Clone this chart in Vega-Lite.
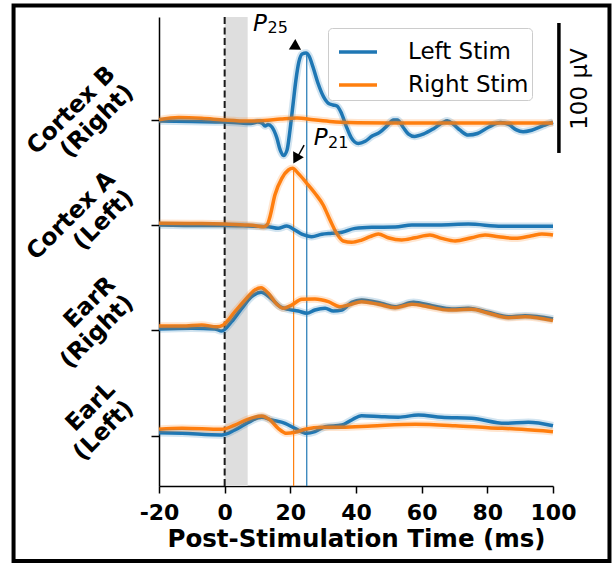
{
  "$schema": "https://vega.github.io/schema/vega-lite/v6.json",
  "width": 394,
  "height": 469,
  "autosize": {"type": "none"},
  "padding": {"left": 159, "top": 17, "right": 63, "bottom": 77},
  "background": "white",
  "config": {
    "view": {"stroke": null},
    "font": "DejaVu Sans",
    "axis": {"domainColor": "black", "domainWidth": 1.5, "tickColor": "black", "tickWidth": 1.5, "labelColor": "black", "titleColor": "black", "grid": false}
  },
  "datasets": {
    "traces": [
      {"ch":"B","stim":"Left Stim","t":-20,"v":242.1},{"ch":"B","stim":"Left Stim","t":-10,"v":241.7},{"ch":"B","stim":"Left Stim","t":0,"v":241.3},{"ch":"B","stim":"Left Stim","t":5,"v":240.5},{"ch":"B","stim":"Left Stim","t":8,"v":240.2},{"ch":"B","stim":"Left Stim","t":10,"v":241.3},{"ch":"B","stim":"Left Stim","t":11.4,"v":240.5},{"ch":"B","stim":"Left Stim","t":12.3,"v":238.2},{"ch":"B","stim":"Left Stim","t":13.2,"v":239.4},{"ch":"B","stim":"Left Stim","t":14.4,"v":237.5},{"ch":"B","stim":"Left Stim","t":15.9,"v":229.0},{"ch":"B","stim":"Left Stim","t":16.9,"v":219.8},{"ch":"B","stim":"Left Stim","t":17.9,"v":215.5},{"ch":"B","stim":"Left Stim","t":19.0,"v":219.8},{"ch":"B","stim":"Left Stim","t":19.9,"v":235.2},{"ch":"B","stim":"Left Stim","t":20.8,"v":254.4},{"ch":"B","stim":"Left Stim","t":21.7,"v":273.6},{"ch":"B","stim":"Left Stim","t":22.6,"v":287.5},{"ch":"B","stim":"Left Stim","t":23.6,"v":293.6},{"ch":"B","stim":"Left Stim","t":24.8,"v":294.4},{"ch":"B","stim":"Left Stim","t":25.7,"v":292.1},{"ch":"B","stim":"Left Stim","t":26.9,"v":283.6},{"ch":"B","stim":"Left Stim","t":28.4,"v":271.3},{"ch":"B","stim":"Left Stim","t":30.0,"v":261.3},{"ch":"B","stim":"Left Stim","t":31.5,"v":255.9},{"ch":"B","stim":"Left Stim","t":33.0,"v":254.4},{"ch":"B","stim":"Left Stim","t":34.2,"v":253.6},{"ch":"B","stim":"Left Stim","t":35.4,"v":249.0},{"ch":"B","stim":"Left Stim","t":37.0,"v":238.2},{"ch":"B","stim":"Left Stim","t":38.5,"v":229.5},{"ch":"B","stim":"Left Stim","t":40.7,"v":224.8},{"ch":"B","stim":"Left Stim","t":42.8,"v":226.5},{"ch":"B","stim":"Left Stim","t":44.9,"v":230.5},{"ch":"B","stim":"Left Stim","t":47.3,"v":233.5},{"ch":"B","stim":"Left Stim","t":49.5,"v":238.5},{"ch":"B","stim":"Left Stim","t":51.4,"v":242.8},{"ch":"B","stim":"Left Stim","t":52.6,"v":242.8},{"ch":"B","stim":"Left Stim","t":54.3,"v":237.5},{"ch":"B","stim":"Left Stim","t":56.0,"v":232.0},{"ch":"B","stim":"Left Stim","t":57.8,"v":230.2},{"ch":"B","stim":"Left Stim","t":60.5,"v":232.0},{"ch":"B","stim":"Left Stim","t":63.5,"v":236.0},{"ch":"B","stim":"Left Stim","t":66.5,"v":241.0},{"ch":"B","stim":"Left Stim","t":67.8,"v":242.2},{"ch":"B","stim":"Left Stim","t":69.5,"v":240.0},{"ch":"B","stim":"Left Stim","t":71.7,"v":235.0},{"ch":"B","stim":"Left Stim","t":74.2,"v":231.3},{"ch":"B","stim":"Left Stim","t":77.0,"v":232.5},{"ch":"B","stim":"Left Stim","t":80.5,"v":237.5},{"ch":"B","stim":"Left Stim","t":84.0,"v":240.9},{"ch":"B","stim":"Left Stim","t":86.5,"v":239.5},{"ch":"B","stim":"Left Stim","t":88.7,"v":235.5},{"ch":"B","stim":"Left Stim","t":90.9,"v":233.8},{"ch":"B","stim":"Left Stim","t":93.5,"v":235.0},{"ch":"B","stim":"Left Stim","t":97.0,"v":238.5},{"ch":"B","stim":"Left Stim","t":100,"v":241.3},
      {"ch":"B","stim":"Right Stim","t":-20,"v":243.0},{"ch":"B","stim":"Right Stim","t":-14,"v":244.8},{"ch":"B","stim":"Right Stim","t":-7,"v":244.2},{"ch":"B","stim":"Right Stim","t":0,"v":242.8},{"ch":"B","stim":"Right Stim","t":7,"v":242.0},{"ch":"B","stim":"Right Stim","t":12,"v":242.5},{"ch":"B","stim":"Right Stim","t":17,"v":243.6},{"ch":"B","stim":"Right Stim","t":22,"v":244.4},{"ch":"B","stim":"Right Stim","t":27,"v":243.0},{"ch":"B","stim":"Right Stim","t":32,"v":241.8},{"ch":"B","stim":"Right Stim","t":38,"v":240.9},{"ch":"B","stim":"Right Stim","t":50,"v":240.6},{"ch":"B","stim":"Right Stim","t":70,"v":240.5},{"ch":"B","stim":"Right Stim","t":85,"v":240.5},{"ch":"B","stim":"Right Stim","t":100,"v":240.5},
      {"ch":"A","stim":"Left Stim","t":-20,"v":162.1},{"ch":"A","stim":"Left Stim","t":-7,"v":161.7},{"ch":"A","stim":"Left Stim","t":0,"v":161.7},{"ch":"A","stim":"Left Stim","t":7.2,"v":161.3},{"ch":"A","stim":"Left Stim","t":13.3,"v":160.8},{"ch":"A","stim":"Left Stim","t":16.3,"v":159.5},{"ch":"A","stim":"Left Stim","t":18.9,"v":161.3},{"ch":"A","stim":"Left Stim","t":21.4,"v":158.2},{"ch":"A","stim":"Left Stim","t":23.5,"v":155.0},{"ch":"A","stim":"Left Stim","t":25.0,"v":153.8},{"ch":"A","stim":"Left Stim","t":26.5,"v":153.1},{"ch":"A","stim":"Left Stim","t":29.6,"v":154.9},{"ch":"A","stim":"Left Stim","t":32.6,"v":155.7},{"ch":"A","stim":"Left Stim","t":35.7,"v":156.5},{"ch":"A","stim":"Left Stim","t":39.7,"v":159.5},{"ch":"A","stim":"Left Stim","t":44.8,"v":160.3},{"ch":"A","stim":"Left Stim","t":51.9,"v":160.5},{"ch":"A","stim":"Left Stim","t":57.0,"v":162.1},{"ch":"A","stim":"Left Stim","t":65.1,"v":162.1},{"ch":"A","stim":"Left Stim","t":74.2,"v":162.8},{"ch":"A","stim":"Left Stim","t":84.4,"v":161.1},{"ch":"A","stim":"Left Stim","t":91.5,"v":161.1},{"ch":"A","stim":"Left Stim","t":100,"v":161.1},
      {"ch":"A","stim":"Right Stim","t":-20,"v":163.4},{"ch":"A","stim":"Right Stim","t":-7,"v":163.2},{"ch":"A","stim":"Right Stim","t":0,"v":162.8},{"ch":"A","stim":"Right Stim","t":7.2,"v":162.0},{"ch":"A","stim":"Right Stim","t":9.5,"v":161.5},{"ch":"A","stim":"Right Stim","t":11.8,"v":160.8},{"ch":"A","stim":"Right Stim","t":13.0,"v":162.5},{"ch":"A","stim":"Right Stim","t":13.8,"v":168.5},{"ch":"A","stim":"Right Stim","t":15.3,"v":185.2},{"ch":"A","stim":"Right Stim","t":17.4,"v":198.0},{"ch":"A","stim":"Right Stim","t":19.4,"v":204.4},{"ch":"A","stim":"Right Stim","t":20.7,"v":205.7},{"ch":"A","stim":"Right Stim","t":22.4,"v":201.8},{"ch":"A","stim":"Right Stim","t":25.0,"v":194.2},{"ch":"A","stim":"Right Stim","t":27.5,"v":186.5},{"ch":"A","stim":"Right Stim","t":30.0,"v":177.5},{"ch":"A","stim":"Right Stim","t":32.1,"v":165.9},{"ch":"A","stim":"Right Stim","t":34.1,"v":155.7},{"ch":"A","stim":"Right Stim","t":36.1,"v":149.8},{"ch":"A","stim":"Right Stim","t":38.7,"v":148.8},{"ch":"A","stim":"Right Stim","t":41.7,"v":150.5},{"ch":"A","stim":"Right Stim","t":44.3,"v":153.1},{"ch":"A","stim":"Right Stim","t":46.8,"v":155.2},{"ch":"A","stim":"Right Stim","t":49.8,"v":152.3},{"ch":"A","stim":"Right Stim","t":53.9,"v":150.5},{"ch":"A","stim":"Right Stim","t":58.0,"v":152.3},{"ch":"A","stim":"Right Stim","t":62.5,"v":154.4},{"ch":"A","stim":"Right Stim","t":66.1,"v":151.8},{"ch":"A","stim":"Right Stim","t":70.2,"v":149.8},{"ch":"A","stim":"Right Stim","t":75.2,"v":152.3},{"ch":"A","stim":"Right Stim","t":79.3,"v":154.4},{"ch":"A","stim":"Right Stim","t":83.4,"v":153.1},{"ch":"A","stim":"Right Stim","t":88.4,"v":151.8},{"ch":"A","stim":"Right Stim","t":93.5,"v":153.8},{"ch":"A","stim":"Right Stim","t":96.6,"v":155.2},{"ch":"A","stim":"Right Stim","t":100,"v":154.4},
      {"ch":"R","stim":"Left Stim","t":-20,"v":82.1},{"ch":"R","stim":"Left Stim","t":-10,"v":82.6},{"ch":"R","stim":"Left Stim","t":-3,"v":82.1},{"ch":"R","stim":"Left Stim","t":-0.9,"v":80.5},{"ch":"R","stim":"Left Stim","t":2.1,"v":87.7},{"ch":"R","stim":"Left Stim","t":5.2,"v":98.0},{"ch":"R","stim":"Left Stim","t":8.2,"v":106.9},{"ch":"R","stim":"Left Stim","t":11.1,"v":110.3},{"ch":"R","stim":"Left Stim","t":13.8,"v":106.2},{"ch":"R","stim":"Left Stim","t":16.9,"v":99.2},{"ch":"R","stim":"Left Stim","t":19.4,"v":97.2},{"ch":"R","stim":"Left Stim","t":22.4,"v":95.9},{"ch":"R","stim":"Left Stim","t":25.0,"v":94.2},{"ch":"R","stim":"Left Stim","t":27.5,"v":96.7},{"ch":"R","stim":"Left Stim","t":30.6,"v":98.0},{"ch":"R","stim":"Left Stim","t":33.1,"v":95.9},{"ch":"R","stim":"Left Stim","t":35.7,"v":96.7},{"ch":"R","stim":"Left Stim","t":38.7,"v":102.6},{"ch":"R","stim":"Left Stim","t":41.7,"v":104.4},{"ch":"R","stim":"Left Stim","t":47.8,"v":101.8},{"ch":"R","stim":"Left Stim","t":51.9,"v":99.2},{"ch":"R","stim":"Left Stim","t":57.5,"v":102.6},{"ch":"R","stim":"Left Stim","t":63.1,"v":100.0},{"ch":"R","stim":"Left Stim","t":69.2,"v":97.5},{"ch":"R","stim":"Left Stim","t":74.2,"v":98.0},{"ch":"R","stim":"Left Stim","t":80.3,"v":94.9},{"ch":"R","stim":"Left Stim","t":86.4,"v":91.5},{"ch":"R","stim":"Left Stim","t":91.5,"v":92.3},{"ch":"R","stim":"Left Stim","t":100,"v":89.8},
      {"ch":"R","stim":"Right Stim","t":-20,"v":84.4},{"ch":"R","stim":"Right Stim","t":-13,"v":84.4},{"ch":"R","stim":"Right Stim","t":-7,"v":85.2},{"ch":"R","stim":"Right Stim","t":-2.4,"v":83.8},{"ch":"R","stim":"Right Stim","t":-0.4,"v":85.2},{"ch":"R","stim":"Right Stim","t":3.1,"v":95.4},{"ch":"R","stim":"Right Stim","t":6.2,"v":104.4},{"ch":"R","stim":"Right Stim","t":9.2,"v":112.1},{"ch":"R","stim":"Right Stim","t":11.1,"v":113.8},{"ch":"R","stim":"Right Stim","t":13.3,"v":109.5},{"ch":"R","stim":"Right Stim","t":15.9,"v":101.1},{"ch":"R","stim":"Right Stim","t":17.9,"v":98.0},{"ch":"R","stim":"Right Stim","t":20.4,"v":100.5},{"ch":"R","stim":"Right Stim","t":23.5,"v":104.9},{"ch":"R","stim":"Right Stim","t":27.5,"v":105.2},{"ch":"R","stim":"Right Stim","t":31.6,"v":103.1},{"ch":"R","stim":"Right Stim","t":35.1,"v":99.2},{"ch":"R","stim":"Right Stim","t":37.7,"v":100.5},{"ch":"R","stim":"Right Stim","t":41.7,"v":103.1},{"ch":"R","stim":"Right Stim","t":46.8,"v":101.1},{"ch":"R","stim":"Right Stim","t":51.9,"v":98.5},{"ch":"R","stim":"Right Stim","t":57.0,"v":101.1},{"ch":"R","stim":"Right Stim","t":62.0,"v":99.2},{"ch":"R","stim":"Right Stim","t":68.1,"v":96.7},{"ch":"R","stim":"Right Stim","t":75.2,"v":97.2},{"ch":"R","stim":"Right Stim","t":80.3,"v":94.2},{"ch":"R","stim":"Right Stim","t":86.4,"v":90.8},{"ch":"R","stim":"Right Stim","t":91.5,"v":91.5},{"ch":"R","stim":"Right Stim","t":100,"v":88.5},
      {"ch":"L","stim":"Left Stim","t":-20,"v":2.3},{"ch":"L","stim":"Left Stim","t":-13,"v":1.8},{"ch":"L","stim":"Left Stim","t":-0.9,"v":0.5},{"ch":"L","stim":"Left Stim","t":3.1,"v":4.4},{"ch":"L","stim":"Left Stim","t":7.2,"v":10.3},{"ch":"L","stim":"Left Stim","t":11.3,"v":14.2},{"ch":"L","stim":"Left Stim","t":14.3,"v":12.1},{"ch":"L","stim":"Left Stim","t":18.4,"v":9.5},{"ch":"L","stim":"Left Stim","t":21.4,"v":5.7},{"ch":"L","stim":"Left Stim","t":25.0,"v":1.8},{"ch":"L","stim":"Left Stim","t":27.5,"v":3.1},{"ch":"L","stim":"Left Stim","t":30.6,"v":6.9},{"ch":"L","stim":"Left Stim","t":35.7,"v":8.2},{"ch":"L","stim":"Left Stim","t":38.7,"v":12.1},{"ch":"L","stim":"Left Stim","t":41.7,"v":15.4},{"ch":"L","stim":"Left Stim","t":47.8,"v":14.6},{"ch":"L","stim":"Left Stim","t":52.9,"v":14.2},{"ch":"L","stim":"Left Stim","t":59.0,"v":15.9},{"ch":"L","stim":"Left Stim","t":66.1,"v":14.2},{"ch":"L","stim":"Left Stim","t":75.2,"v":13.4},{"ch":"L","stim":"Left Stim","t":85.4,"v":9.5},{"ch":"L","stim":"Left Stim","t":92.5,"v":10.3},{"ch":"L","stim":"Left Stim","t":100,"v":7.7},
      {"ch":"L","stim":"Right Stim","t":-20,"v":4.9},{"ch":"L","stim":"Right Stim","t":-13,"v":5.7},{"ch":"L","stim":"Right Stim","t":-0.9,"v":4.9},{"ch":"L","stim":"Right Stim","t":3.1,"v":8.2},{"ch":"L","stim":"Right Stim","t":7.2,"v":12.8},{"ch":"L","stim":"Right Stim","t":11.3,"v":15.2},{"ch":"L","stim":"Right Stim","t":13.8,"v":12.1},{"ch":"L","stim":"Right Stim","t":16.3,"v":5.7},{"ch":"L","stim":"Right Stim","t":18.9,"v":1.8},{"ch":"L","stim":"Right Stim","t":21.4,"v":2.6},{"ch":"L","stim":"Right Stim","t":24.5,"v":4.9},{"ch":"L","stim":"Right Stim","t":29.6,"v":6.5},{"ch":"L","stim":"Right Stim","t":35.7,"v":6.5},{"ch":"L","stim":"Right Stim","t":44.8,"v":7.5},{"ch":"L","stim":"Right Stim","t":58.0,"v":8.8},{"ch":"L","stim":"Right Stim","t":70.2,"v":7.7},{"ch":"L","stim":"Right Stim","t":80.3,"v":6.2},{"ch":"L","stim":"Right Stim","t":90.5,"v":4.9},{"ch":"L","stim":"Right Stim","t":100,"v":3.1}
    ]
  },
  "layer": [
    {
      "data": {"values": [{}]},
      "mark": {"type": "rect", "filled": false, "stroke": "black", "strokeWidth": 4},
      "encoding": {
        "x": {"datum": -64.3, "type": "quantitative"}, "x2": {"datum": 117.2},
        "y": {"datum": 330.9, "type": "quantitative"}, "y2": {"datum": -96.4}
      }
    },
    {
      "data": {"values": [{}]},
      "mark": {"type": "rect", "color": "#dedede"},
      "encoding": {
        "x": {"datum": 0, "type": "quantitative"}, "x2": {"datum": 7},
        "y": {"datum": -38.7, "type": "quantitative"}, "y2": {"datum": 322.1}
      }
    },
    {
      "data": {"values": [{}]},
      "mark": {"type": "rule", "color": "#1a1a1a", "strokeWidth": 2, "strokeDash": [7, 3.5]},
      "encoding": {
        "x": {"datum": 0, "type": "quantitative"},
        "y": {"datum": -38.7, "type": "quantitative"}, "y2": {"datum": 322.1}
      }
    },
    {
      "data": {"values": [{}]},
      "mark": {"type": "rule", "color": "#ff7f0e", "strokeWidth": 1.2},
      "encoding": {
        "x": {"datum": 21, "type": "quantitative"},
        "y": {"datum": -38.7, "type": "quantitative"}, "y2": {"datum": 205.7}
      }
    },
    {
      "data": {"values": [{}]},
      "mark": {"type": "rule", "color": "#1f77b4", "strokeWidth": 1.2},
      "encoding": {
        "x": {"datum": 25, "type": "quantitative"},
        "y": {"datum": -38.7, "type": "quantitative"}, "y2": {"datum": 294.4}
      }
    },
    {
      "data": {"name": "traces"},
      "mark": {"type": "line", "strokeWidth": 3.5, "interpolate": "monotone"},
      "encoding": {
        "x": {
          "field": "t", "type": "quantitative",
          "scale": {"domain": [-20, 100], "nice": false, "zero": false},
          "axis": {"title": "Post-Stimulation Time (ms)", "values": [-20, 0, 20, 40, 60, 80, 100], "labelExpr": "replace(datum.label, '\u2212', '-')", "labelFontSize": 22, "labelFontWeight": "bold", "labelPadding": 9, "tickSize": 7, "titleFontSize": 24.5, "titleFontWeight": "bold", "titlePadding": 4, "labelFlush": false, "labelOverlap": false}
        },
        "y": {
          "field": "v", "type": "quantitative",
          "scale": {"domain": [-38.7, 322.1], "nice": false, "zero": false},
          "axis": {"title": null, "values": [0, 81, 162, 243], "labelExpr": "datum.value > 200 ? ['Cortex B','(Right)'] : datum.value > 120 ? ['Cortex A','(Left)'] : datum.value > 40 ? ['EarR','(Right)'] : ['EarL','(Left)']", "labelAngle": -45, "labelAlign": "right", "labelBaseline": "middle", "labelFontSize": 23.5, "labelFontWeight": "bold", "labelLineHeight": 26, "labelOffset": -50, "labelPadding": 40, "tickSize": 8, "labelOverlap": false, "labelBound": false, "labelFlush": false}
        },
        "color": {
          "field": "stim", "type": "nominal",
          "scale": {"domain": ["Left Stim", "Right Stim"], "range": ["#1f77b4", "#ff7f0e"]},
          "legend": {"orient": "none", "legendX": 169, "legendY": 11, "title": null, "symbolType": "stroke", "symbolSize": 1444, "symbolStrokeWidth": 3.5, "symbolOpacity": 1, "labelFontSize": 23, "labelFont": "DejaVu Sans", "labelColor": "black", "labelOffset": 29, "labelExpr": "datum.label + ' '", "padding": 3, "symbolOffset": 6, "cornerRadius": 4, "strokeColor": "#cccccc", "fillColor": "white", "rowPadding": -4}
        },
        "detail": {"field": "ch"}
      }
    },
    {
      "data": {"name": "traces"},
      "mark": {"type": "line", "strokeWidth": 7.5, "strokeOpacity": 0.2, "interpolate": "monotone"},
      "encoding": {
        "x": {"field": "t", "type": "quantitative"},
        "y": {"field": "v", "type": "quantitative"},
        "color": {"field": "stim", "type": "nominal"},
        "detail": {"field": "ch"}
      }
    },
    {
      "data": {"values": [{}]},
      "mark": {"type": "rule", "color": "black", "strokeWidth": 3.5},
      "encoding": {
        "x": {"datum": 101.8, "type": "quantitative"},
        "y": {"datum": 217.5, "type": "quantitative"}, "y2": {"datum": 317.5}
      }
    },
    {
      "data": {"values": [{"t": 108.2, "v": 266.7, "label": "100 μV"}]},
      "mark": {"type": "text", "angle": 270, "fontSize": 23, "align": "center", "baseline": "middle", "color": "black"},
      "encoding": {
        "x": {"field": "t", "type": "quantitative"},
        "y": {"field": "v", "type": "quantitative"},
        "text": {"field": "label"}
      }
    },
    {
      "data": {"values": [{"t": 8.6, "v": 311.5, "label": "P"}, {"t": 27.1, "v": 224.0, "label": "P"}]},
      "mark": {"type": "text", "fontStyle": "italic", "fontSize": 23, "align": "left", "baseline": "alphabetic", "color": "black"},
      "encoding": {
        "x": {"field": "t", "type": "quantitative"},
        "y": {"field": "v", "type": "quantitative"},
        "text": {"field": "label"}
      }
    },
    {
      "data": {"values": [{"t": 13.05, "v": 309.5, "label": "25"}, {"t": 31.5, "v": 221.7, "label": "21"}]},
      "mark": {"type": "text", "fontSize": 16, "align": "left", "baseline": "alphabetic", "color": "black"},
      "encoding": {
        "x": {"field": "t", "type": "quantitative"},
        "y": {"field": "v", "type": "quantitative"},
        "text": {"field": "label"}
      }
    },
    {
      "data": {"values": [{}]},
      "mark": {"type": "rule", "color": "black", "strokeWidth": 1.5},
      "encoding": {
        "x": {"datum": 24.2, "type": "quantitative"}, "x2": {"datum": 22.2},
        "y": {"datum": 223.6, "type": "quantitative"}, "y2": {"datum": 214.4}
      }
    },
    {
      "data": {"values": [{"t": 21.9, "v": 299.0, "dir": 32}, {"t": 21.7, "v": 213.0, "dir": 119}]},
      "mark": {"type": "point", "shape": "triangle-right", "filled": true, "color": "black", "size": 150, "opacity": 1},
      "encoding": {
        "x": {"field": "t", "type": "quantitative"},
        "y": {"field": "v", "type": "quantitative"},
        "angle": {"field": "dir", "type": "quantitative", "scale": null}
      }
    }
  ]
}
